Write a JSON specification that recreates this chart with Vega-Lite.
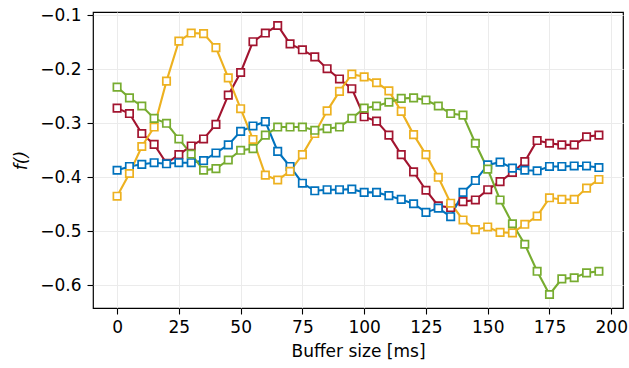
{
  "$schema": "https://vega.github.io/schema/vega-lite/v6.json",
  "width": 530,
  "height": 296,
  "autosize": {"type": "none"},
  "padding": {"left": 93, "top": 12, "right": 6, "bottom": 60},
  "background": "white",
  "config": {
    "font": "DejaVu Sans",
    "view": {"stroke": "black", "strokeWidth": 1.2},
    "axis": {
      "domain": false,
      "tickColor": "black",
      "tickSize": 6,
      "tickWidth": 1.1,
      "labelFontSize": 17,
      "labelColor": "black",
      "titleFontSize": 17,
      "titleFontWeight": "normal",
      "titleColor": "black",
      "gridColor": "#ebebeb",
      "gridWidth": 1,
      "labelPadding": 4
    }
  },
  "datasets": {
    "d": [
      {"s":"red","x":0,"y":-0.272},{"s":"red","x":5,"y":-0.282},{"s":"red","x":10,"y":-0.319},{"s":"red","x":15,"y":-0.339},{"s":"red","x":20,"y":-0.374},{"s":"red","x":25,"y":-0.358},{"s":"red","x":30,"y":-0.342},{"s":"red","x":35,"y":-0.329},{"s":"red","x":40,"y":-0.302},{"s":"red","x":45,"y":-0.248},{"s":"red","x":50,"y":-0.206},{"s":"red","x":55,"y":-0.149},{"s":"red","x":60,"y":-0.133},{"s":"red","x":65,"y":-0.119},{"s":"red","x":70,"y":-0.153},{"s":"red","x":75,"y":-0.164},{"s":"red","x":80,"y":-0.177},{"s":"red","x":85,"y":-0.199},{"s":"red","x":90,"y":-0.218},{"s":"red","x":95,"y":-0.236},{"s":"red","x":100,"y":-0.288},{"s":"red","x":105,"y":-0.296},{"s":"red","x":110,"y":-0.322},{"s":"red","x":115,"y":-0.358},{"s":"red","x":120,"y":-0.390},{"s":"red","x":125,"y":-0.424},{"s":"red","x":130,"y":-0.453},{"s":"red","x":135,"y":-0.456},{"s":"red","x":140,"y":-0.445},{"s":"red","x":145,"y":-0.442},{"s":"red","x":150,"y":-0.423},{"s":"red","x":155,"y":-0.408},{"s":"red","x":160,"y":-0.391},{"s":"red","x":165,"y":-0.371},{"s":"red","x":170,"y":-0.332},{"s":"red","x":175,"y":-0.337},{"s":"red","x":180,"y":-0.340},{"s":"red","x":185,"y":-0.340},{"s":"red","x":190,"y":-0.325},{"s":"red","x":195,"y":-0.322},
      {"s":"blue","x":0,"y":-0.387},{"s":"blue","x":5,"y":-0.380},{"s":"blue","x":10,"y":-0.376},{"s":"blue","x":15,"y":-0.373},{"s":"blue","x":20,"y":-0.375},{"s":"blue","x":25,"y":-0.373},{"s":"blue","x":30,"y":-0.373},{"s":"blue","x":35,"y":-0.369},{"s":"blue","x":40,"y":-0.355},{"s":"blue","x":45,"y":-0.340},{"s":"blue","x":50,"y":-0.315},{"s":"blue","x":55,"y":-0.305},{"s":"blue","x":60,"y":-0.297},{"s":"blue","x":65,"y":-0.352},{"s":"blue","x":70,"y":-0.380},{"s":"blue","x":75,"y":-0.411},{"s":"blue","x":80,"y":-0.425},{"s":"blue","x":85,"y":-0.423},{"s":"blue","x":90,"y":-0.423},{"s":"blue","x":95,"y":-0.422},{"s":"blue","x":100,"y":-0.428},{"s":"blue","x":105,"y":-0.428},{"s":"blue","x":110,"y":-0.434},{"s":"blue","x":115,"y":-0.441},{"s":"blue","x":120,"y":-0.449},{"s":"blue","x":125,"y":-0.465},{"s":"blue","x":130,"y":-0.457},{"s":"blue","x":135,"y":-0.473},{"s":"blue","x":140,"y":-0.428},{"s":"blue","x":145,"y":-0.406},{"s":"blue","x":150,"y":-0.377},{"s":"blue","x":155,"y":-0.372},{"s":"blue","x":160,"y":-0.383},{"s":"blue","x":165,"y":-0.387},{"s":"blue","x":170,"y":-0.388},{"s":"blue","x":175,"y":-0.380},{"s":"blue","x":180,"y":-0.380},{"s":"blue","x":185,"y":-0.379},{"s":"blue","x":190,"y":-0.379},{"s":"blue","x":195,"y":-0.382},
      {"s":"yellow","x":0,"y":-0.435},{"s":"yellow","x":5,"y":-0.393},{"s":"yellow","x":10,"y":-0.343},{"s":"yellow","x":15,"y":-0.307},{"s":"yellow","x":20,"y":-0.222},{"s":"yellow","x":25,"y":-0.148},{"s":"yellow","x":30,"y":-0.133},{"s":"yellow","x":35,"y":-0.134},{"s":"yellow","x":40,"y":-0.160},{"s":"yellow","x":45,"y":-0.216},{"s":"yellow","x":50,"y":-0.273},{"s":"yellow","x":55,"y":-0.330},{"s":"yellow","x":60,"y":-0.396},{"s":"yellow","x":65,"y":-0.405},{"s":"yellow","x":70,"y":-0.389},{"s":"yellow","x":75,"y":-0.358},{"s":"yellow","x":80,"y":-0.319},{"s":"yellow","x":85,"y":-0.277},{"s":"yellow","x":90,"y":-0.241},{"s":"yellow","x":95,"y":-0.209},{"s":"yellow","x":100,"y":-0.214},{"s":"yellow","x":105,"y":-0.225},{"s":"yellow","x":110,"y":-0.240},{"s":"yellow","x":115,"y":-0.278},{"s":"yellow","x":120,"y":-0.321},{"s":"yellow","x":125,"y":-0.358},{"s":"yellow","x":130,"y":-0.400},{"s":"yellow","x":135,"y":-0.448},{"s":"yellow","x":140,"y":-0.479},{"s":"yellow","x":145,"y":-0.497},{"s":"yellow","x":150,"y":-0.492},{"s":"yellow","x":155,"y":-0.502},{"s":"yellow","x":160,"y":-0.503},{"s":"yellow","x":165,"y":-0.487},{"s":"yellow","x":170,"y":-0.472},{"s":"yellow","x":175,"y":-0.438},{"s":"yellow","x":180,"y":-0.441},{"s":"yellow","x":185,"y":-0.441},{"s":"yellow","x":190,"y":-0.420},{"s":"yellow","x":195,"y":-0.404},
      {"s":"green","x":0,"y":-0.233},{"s":"green","x":5,"y":-0.253},{"s":"green","x":10,"y":-0.268},{"s":"green","x":15,"y":-0.291},{"s":"green","x":20,"y":-0.300},{"s":"green","x":25,"y":-0.329},{"s":"green","x":30,"y":-0.357},{"s":"green","x":35,"y":-0.387},{"s":"green","x":40,"y":-0.384},{"s":"green","x":45,"y":-0.368},{"s":"green","x":50,"y":-0.350},{"s":"green","x":55,"y":-0.347},{"s":"green","x":60,"y":-0.322},{"s":"green","x":65,"y":-0.307},{"s":"green","x":70,"y":-0.307},{"s":"green","x":75,"y":-0.307},{"s":"green","x":80,"y":-0.313},{"s":"green","x":85,"y":-0.310},{"s":"green","x":90,"y":-0.307},{"s":"green","x":95,"y":-0.291},{"s":"green","x":100,"y":-0.272},{"s":"green","x":105,"y":-0.268},{"s":"green","x":110,"y":-0.261},{"s":"green","x":115,"y":-0.254},{"s":"green","x":120,"y":-0.253},{"s":"green","x":125,"y":-0.257},{"s":"green","x":130,"y":-0.268},{"s":"green","x":135,"y":-0.282},{"s":"green","x":140,"y":-0.285},{"s":"green","x":145,"y":-0.337},{"s":"green","x":150,"y":-0.385},{"s":"green","x":155,"y":-0.442},{"s":"green","x":160,"y":-0.486},{"s":"green","x":165,"y":-0.524},{"s":"green","x":170,"y":-0.574},{"s":"green","x":175,"y":-0.617},{"s":"green","x":180,"y":-0.588},{"s":"green","x":185,"y":-0.586},{"s":"green","x":190,"y":-0.577},{"s":"green","x":195,"y":-0.574}
    ]
  },
  "data": {"name": "d"},
  "encoding": {
    "x": {
      "field": "x", "type": "quantitative",
      "scale": {"domain": [-9.75, 204.75], "nice": false, "zero": false},
      "axis": {"values": [0, 25, 50, 75, 100, 125, 150, 175, 200], "title": "Buffer size [ms]", "titlePadding": 8, "labelPadding": 5}
    },
    "y": {
      "field": "y", "type": "quantitative",
      "scale": {"domain": [-0.642, -0.094], "nice": false, "zero": false},
      "axis": {"values": [-0.6, -0.5, -0.4, -0.3, -0.2, -0.1], "format": ".1f", "title": "f()", "titleFontStyle": "italic", "titlePadding": 9, "labelPadding": 6}
    },
    "color": {
      "field": "s", "type": "nominal",
      "scale": {"domain": ["blue", "red", "yellow", "green"], "range": ["#0072BD", "#A2142F", "#EDB120", "#77AC30"]},
      "legend": null
    }
  },
  "layer": [
    {"mark": {"type": "line", "strokeWidth": 2.1}},
    {"mark": {"type": "point", "shape": "square", "filled": false, "fill": "white", "fillOpacity": 1, "opacity": 1, "size": 55, "strokeWidth": 1.7}}
  ]
}
